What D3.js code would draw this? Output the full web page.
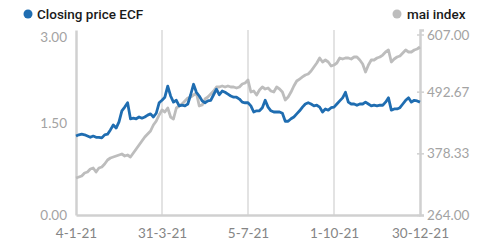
<!DOCTYPE html>
<html>
<head>
<meta charset="utf-8">
<script src="https://cdn.jsdelivr.net/npm/d3@7"></script>
<style>
  body { margin: 0; background: #fff; }
  svg { display: block; }
</style>
</head>
<body>
<section></section>
<script>
"use strict";

const w = 491;
const h = 244;
const margin = { top: 30, bottom: 29, left: 76, right: 71 };

//x tick labels sit on these point indices
const tickIdx = [0, 30, 60, 90, 120];
const tickLabels = ["4-1-21", "31-3-21", "5-7-21", "1-10-21", "30-12-21"];

const leftTicks = [0, 1.5, 3];
const rightTicks = [264, 378.33, 492.67, 607];

//Closing price ECF (left axis)
const ecf = [
  1.28, 1.30, 1.31, 1.30, 1.28, 1.26, 1.28, 1.26, 1.26, 1.25,
  1.30, 1.31, 1.38, 1.46, 1.41, 1.51, 1.69, 1.75, 1.82, 1.56,
  1.57, 1.56, 1.59, 1.57, 1.59, 1.62, 1.64, 1.59, 1.65, 1.82,
  1.86, 1.91, 2.09, 1.93, 1.83, 1.86, 1.77, 1.78, 1.77, 1.80,
  1.95, 2.12, 1.99, 1.93, 1.85, 1.82, 1.85, 1.86, 1.95, 2.04,
  1.95, 2.01, 1.99, 1.96, 1.93, 1.91, 1.91, 1.88, 1.83, 1.82,
  1.82, 1.77, 1.67, 1.69, 1.69, 1.74, 1.86, 1.75, 1.69, 1.67,
  1.67, 1.67, 1.65, 1.52, 1.52, 1.56, 1.59, 1.64, 1.69, 1.75,
  1.80, 1.82, 1.80, 1.77, 1.78, 1.75, 1.67, 1.72, 1.70, 1.74,
  1.75, 1.80, 1.85, 1.90, 1.99, 1.83, 1.80, 1.80, 1.78, 1.80,
  1.80, 1.83, 1.80, 1.77, 1.78, 1.77, 1.78, 1.78, 1.83, 1.90,
  1.70, 1.72, 1.72, 1.74, 1.80, 1.86, 1.90, 1.83, 1.86, 1.85,
  1.83,
];

//mai index (right axis)
const mai = [
  332.6, 334.5, 336.3, 341.9, 343.7, 349.3, 351.1, 343.7, 351.1, 353.0,
  358.6, 366.0, 369.7, 371.5, 373.4, 375.2, 377.1, 373.4, 375.2, 371.5,
  378.9, 386.4, 393.8, 401.2, 408.6, 414.2, 419.7, 430.9, 438.3, 449.4,
  458.7, 455.0, 462.4, 445.7, 442.0, 462.4, 466.1, 469.8, 475.4, 480.9,
  482.8, 486.5, 490.2, 466.1, 467.9, 479.1, 482.8, 488.3, 493.9, 501.3,
  501.3, 503.2, 501.3, 503.2, 501.3, 501.3, 499.5, 501.3, 506.9, 508.7,
  514.3, 492.0, 493.9, 486.5, 495.8, 501.3, 497.6, 499.5, 493.9, 492.0,
  501.3, 497.6, 492.0, 477.2, 482.8, 492.0, 503.2, 512.4, 516.1, 519.9,
  523.6, 525.4, 531.0, 538.4, 545.8, 555.1, 547.7, 551.4, 547.7, 540.2,
  542.1, 545.8, 555.1, 553.2, 555.1, 555.1, 553.2, 556.9, 556.9, 551.4,
  544.0, 529.1, 542.1, 551.4, 551.4, 555.1, 556.9, 560.6, 566.2, 569.9,
  547.7, 553.2, 556.9, 558.8, 564.3, 569.9, 566.2, 566.2, 569.9, 571.8,
  575.5,
];

const innerWidth = w - margin.left - margin.right;
const innerHeight = h - margin.top - margin.bottom;

const blue = "#1f6db1";
const grey = "#bdbdbd";
const axisColor = "#d0d0d0";
const labelFont = "Lato, sans-serif";

const svg = d3.select("section").append("svg").attr("width", w).attr("height", h);
const container = svg.append("g").attr("transform", `translate(${margin.left}, ${margin.top})`);

//Scales
const xScale = d3.scaleLinear().domain([0, ecf.length - 1]).range([0, innerWidth]);
const yLeft = d3.scaleLinear().domain([0, 3]).range([innerHeight, 0]);
const yRight = d3.scaleLinear().domain([264, 607]).range([innerHeight, 0]);

//Vertical grid lines
container
  .append("g")
  .selectAll("line")
  .data(tickIdx.slice(1, -1))
  .enter()
  .append("line")
  .attr("x1", (d) => xScale(d))
  .attr("x2", (d) => xScale(d))
  .attr("y1", 0)
  .attr("y2", innerHeight)
  .attr("stroke", "#dcdcdc")
  .attr("stroke-width", 1.6);

//x Axis
const xAxis = d3
  .axisBottom(xScale)
  .tickValues(tickIdx)
  .tickFormat((d, i) => tickLabels[i])
  .tickSize(0)
  .tickPadding(13);

container
  .append("g")
  .attr("transform", `translate(0, ${innerHeight})`)
  .call(xAxis)
  .attr("font-family", labelFont)
  .attr("font-size", 13.5)
  .call((g) => g.select(".domain").attr("stroke", axisColor).attr("stroke-width", 2.5))
  .call((g) => g.selectAll("text").attr("fill", "#858585").attr("dy", null).attr("y", 23));

//left Axis
const yAxisL = d3
  .axisLeft(yLeft)
  .tickValues(leftTicks)
  .tickFormat(d3.format(".2f"))
  .tickSize(0)
  .tickPadding(9);

container
  .append("g")
  .call(yAxisL)
  .attr("font-family", labelFont)
  .attr("font-size", 13.5)
  .call((g) => g.select(".domain").attr("stroke", axisColor).attr("stroke-width", 2.5))
  .call((g) => g.selectAll("text").attr("fill", "#a3a3a3").attr("dy", null).attr("y", 4.5))
  .call((g) => g.selectAll(".tick").filter((d) => d === 3).attr("transform", `translate(0, ${yLeft(3) + 7})`));

//right Axis
const yAxisR = d3
  .axisRight(yRight)
  .tickValues(rightTicks)
  .tickFormat(d3.format(".2f"))
  .tickSize(4)
  .tickPadding(3);

container
  .append("g")
  .attr("transform", `translate(${innerWidth}, 0)`)
  .call(yAxisR)
  .attr("font-family", labelFont)
  .attr("font-size", 13.5)
  .call((g) => g.select(".domain").attr("stroke", axisColor).attr("stroke-width", 2.5))
  .call((g) => g.selectAll(".tick line").attr("stroke", axisColor).attr("stroke-width", 1.5).attr("x1", -3))
  .call((g) => g.selectAll("text").attr("fill", "#a3a3a3").attr("dy", null).attr("y", 4.5))
  .call((g) => g.selectAll(".tick").filter((d) => d === 607).attr("transform", `translate(0, ${yRight(607) + 5})`));

//Lines
const lineMai = d3
  .line()
  .x((d, i) => xScale(i))
  .y((d) => yRight(d));

const lineEcf = d3
  .line()
  .x((d, i) => xScale(i))
  .y((d) => yLeft(d));

container
  .append("path")
  .datum(mai)
  .attr("d", lineMai)
  .attr("fill", "none")
  .attr("stroke", grey)
  .attr("stroke-width", 2.8)
  .attr("stroke-linejoin", "round");

container
  .append("path")
  .datum(ecf)
  .attr("d", lineEcf)
  .attr("fill", "none")
  .attr("stroke", blue)
  .attr("stroke-width", 2.8)
  .attr("stroke-linejoin", "round");

//Legend
const legendL = svg.append("g").attr("transform", "translate(28, 14)");
legendL.append("circle").attr("r", 4.5).attr("fill", blue);
legendL
  .append("text")
  .attr("x", 9)
  .attr("y", 5)
  .attr("fill", "#1a1a1a")
  .attr("font-family", "Roboto, sans-serif")
  .attr("font-weight", 500)
  .attr("font-size", 13.5)
  .text("Closing price ECF");

const legendR = svg.append("g").attr("transform", "translate(397, 14)");
legendR.append("circle").attr("r", 4.5).attr("fill", grey);
legendR
  .append("text")
  .attr("x", 10)
  .attr("y", 5)
  .attr("fill", "#1a1a1a")
  .attr("font-family", "Roboto, sans-serif")
  .attr("font-weight", 500)
  .attr("font-size", 13.5)
  .text("mai index");
</script>
</body>
</html>
